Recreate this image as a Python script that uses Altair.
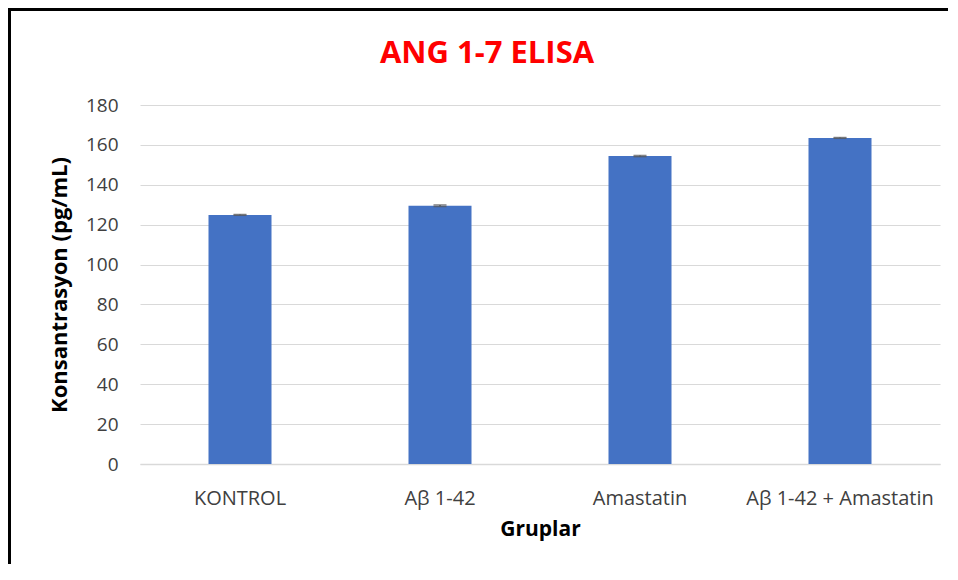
import altair as alt
import pandas as pd

groups = ["KONTROL", "Aβ 1-42", "Amastatin", "Aβ 1-42 + Amastatin"]
values = [124.9, 129.5, 154.4, 163.5]
errors = [0.2, 0.4, 0.3, 0.2]
y_ticks = [0, 20, 40, 60, 80, 100, 120, 140, 160, 180]
title_text = "ANG 1-7 ELISA"

df = pd.DataFrame({"grup": groups, "deger": values, "hata": errors})
df["lo"] = df["deger"] - df["hata"]
df["hi"] = df["deger"] + df["hata"]

FONT = "Open Sans"
yscale = alt.Scale(domain=[0, 180], nice=False)
xscale = alt.Scale(paddingInner=0, paddingOuter=0)

xaxis = alt.Axis(title="Gruplar", labelAngle=0, labelFont=FONT, labelFontSize=20,
                 labelColor="#404040", labelPadding=24, ticks=False, labelLimit=0,
                 domainColor="#d9d9d9", domainWidth=1.5,
                 titleFont=FONT, titleFontSize=21, titleFontWeight="bold",
                 titleColor="#000000", titleBaseline="alphabetic", titleY=71)

yaxis = alt.Axis(title="Konsantrasyon  (pg/mL)", values=y_ticks,
                 labelFont=FONT, labelFontSize=19, labelColor="#404040",
                 labelPadding=22, ticks=False, domain=False, labelOverlap=False,
                 gridColor="#d9d9d9", gridWidth=1.2,
                 titleFont=FONT, titleFontSize=22, titleFontWeight="bold",
                 titleColor="#000000", titleBaseline="alphabetic",
                 titleX=-74, titleY=179.5, titleAngle=270)


def X():
    return alt.X("grup:N", sort=groups, scale=xscale, axis=xaxis)


def Y(field):
    return alt.Y(field, scale=yscale, axis=yaxis)


bars = alt.Chart(df).mark_bar(size=63, color="#4472C4").encode(x=X(), y=Y("deger:Q"))

err_rule = alt.Chart(df).mark_rule(color="#595959", strokeWidth=1.5).encode(
    x=X(), y=Y("lo:Q"), y2="hi:Q")
cap_hi = alt.Chart(df).mark_tick(color="#595959", thickness=1.5, size=13, orient="horizontal").encode(
    x=X(), y=Y("hi:Q"))
cap_lo = alt.Chart(df).mark_tick(color="#595959", thickness=1.5, size=13, orient="horizontal").encode(
    x=X(), y=Y("lo:Q"))

single = alt.Data(values=[{"t": title_text}])
title_mark = alt.Chart(single).mark_text(
    font=FONT, fontSize=31, fontWeight="bold", color="#FF0000",
    align="center", baseline="alphabetic").encode(
    text="t:N", x=alt.value(347), y=alt.value(-42))

frame_top = alt.Chart(single).mark_rule(color="#000000", strokeWidth=3).encode(
    x=alt.value(-132), x2=alt.value(820), y=alt.value(-95.5))
frame_left = alt.Chart(single).mark_rule(color="#000000", strokeWidth=3).encode(
    x=alt.value(-130.5), y=alt.value(-97), y2=alt.value(470))

chart = alt.layer(bars, err_rule, cap_hi, cap_lo, title_mark, frame_top, frame_left).properties(
    width=800, height=359,
    padding={"left": 132, "top": 97, "right": 8, "bottom": 100},
    autosize=alt.AutoSizeParams(type="none"),
    background="#ffffff",
).configure_view(strokeWidth=0)

chart.save("out.html", embed_options={"renderer": "svg", "actions": False})
